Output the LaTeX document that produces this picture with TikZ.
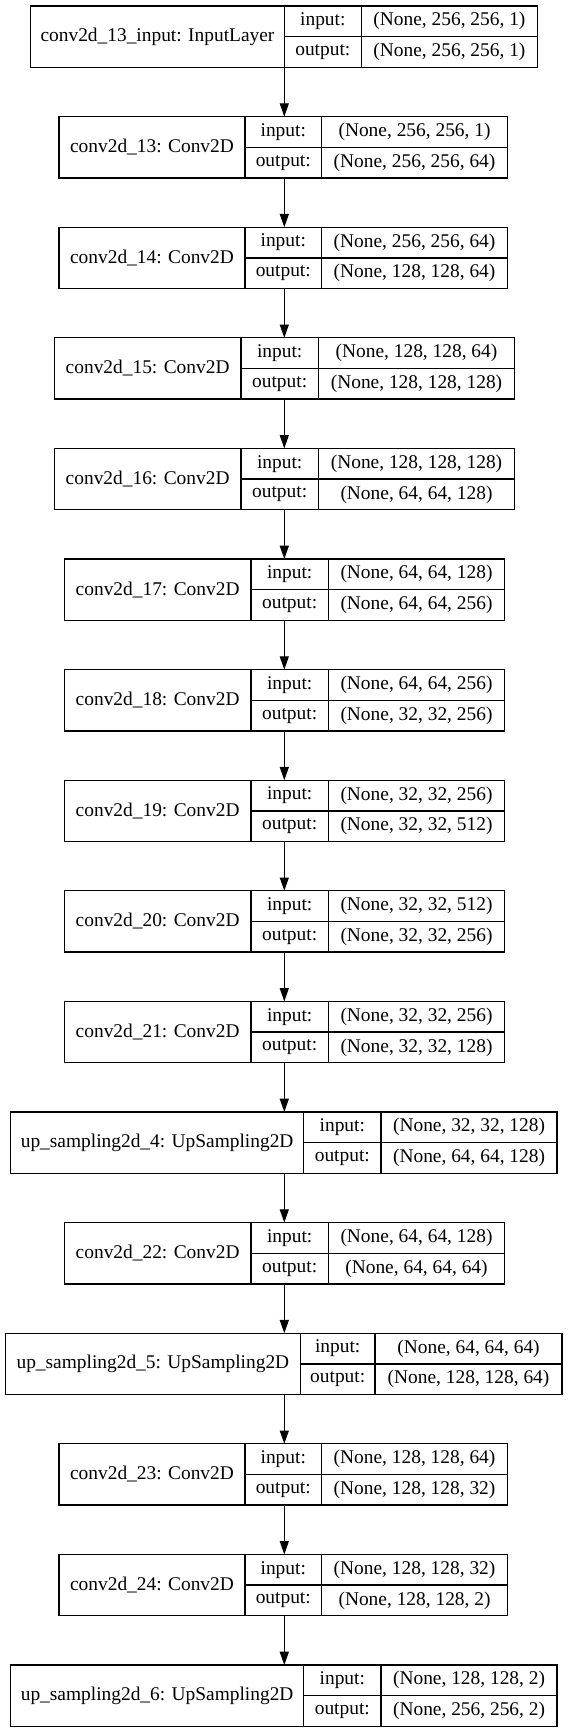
\documentclass[tikz,border=0pt]{standalone}
\usepackage{fontspec}
\setmainfont{Liberation Serif}
\usetikzlibrary{arrows.meta}
\tikzset{
  lbox/.style={draw=black, line width=1.3pt, minimum height=61.3pt, inner sep=0pt, outer sep=0pt},
  txt/.style={inner sep=0pt, font=\fontsize{19.4}{23}\selectfont},
  cell/.style={line width=1.3pt},
  arr/.style={line width=1.3pt, -{Triangle[length=13.3pt, width=9pt]}}
}
\newcommand\layer[9]{%
  \pgfmathsetmacro\lw{#6-#3}%
  \node[lbox, minimum width=\lw pt] (#1) at ({(#3+#6)/2}, #2+30.65) {};
  \node[txt] (#1n) at ({(#3+#4)/2}, #2+30.65) {#7};
  \node[txt] (#1i) at ({(#4+#5)/2}, #2+15.3) {input:};
  \node[txt] (#1o) at ({(#4+#5)/2}, #2+46) {output:};
  \node[txt] (#1a) at ({(#5+#6)/2}, #2+15.3) {#8};
  \node[txt] (#1b) at ({(#5+#6)/2}, #2+46) {#9};
  \draw[cell] (#4, #2) -- (#4, #2+61.3);
  \draw[cell] (#5, #2) -- (#5, #2+61.3);
  \draw[cell] (#4, #2+30.65) -- (#6, #2+30.65);
}
\begin{document}
\begin{tikzpicture}[x=1pt, y=-1pt]
\useasboundingbox (0,0) rectangle (569,1733);
\coordinate (ax) at (284.3,0);
\layer{L0}{6}{30.7}{284.3}{361.3}{537.6}{conv2d\_13\_input: InputLayer}{(None, 256, 256, 1)}{(None, 256, 256, 1)}
\layer{L1}{116.6}{59}{245}{321.5}{507.6}{conv2d\_13: Conv2D}{(None, 256, 256, 1)}{(None, 256, 256, 64)}
\layer{L2}{227.2}{59}{245}{321.5}{507.6}{conv2d\_14: Conv2D}{(None, 256, 256, 64)}{(None, 128, 128, 64)}
\layer{L3}{337.8}{54.3}{241}{318.3}{514.7}{conv2d\_15: Conv2D}{(None, 128, 128, 64)}{(None, 128, 128, 128)}
\layer{L4}{448.4}{54.3}{241}{318.3}{514.7}{conv2d\_16: Conv2D}{(None, 128, 128, 128)}{(None, 64, 64, 128)}
\layer{L5}{559}{64.3}{251}{328.3}{504.7}{conv2d\_17: Conv2D}{(None, 64, 64, 128)}{(None, 64, 64, 256)}
\layer{L6}{669.6}{64.3}{251}{328.3}{504.7}{conv2d\_18: Conv2D}{(None, 64, 64, 256)}{(None, 32, 32, 256)}
\layer{L7}{780.2}{64.3}{251}{328.3}{504.7}{conv2d\_19: Conv2D}{(None, 32, 32, 256)}{(None, 32, 32, 512)}
\layer{L8}{890.8}{64.3}{251}{328.3}{504.7}{conv2d\_20: Conv2D}{(None, 32, 32, 512)}{(None, 32, 32, 256)}
\layer{L9}{1001.4}{64.3}{251}{328.3}{504.7}{conv2d\_21: Conv2D}{(None, 32, 32, 256)}{(None, 32, 32, 128)}
\layer{L10}{1112}{10.8}{303.5}{381.1}{557}{up\_sampling2d\_4: UpSampling2D}{(None, 32, 32, 128)}{(None, 64, 64, 128)}
\layer{L11}{1222.6}{64.3}{251}{328.3}{504.7}{conv2d\_22: Conv2D}{(None, 64, 64, 128)}{(None, 64, 64, 64)}
\layer{L12}{1333.2}{5.5}{300.3}{375.1}{562}{up\_sampling2d\_5: UpSampling2D}{(None, 64, 64, 64)}{(None, 128, 128, 64)}
\layer{L13}{1443.8}{59}{245}{321.5}{507.6}{conv2d\_23: Conv2D}{(None, 128, 128, 64)}{(None, 128, 128, 32)}
\layer{L14}{1554.4}{59}{245}{321.5}{507.6}{conv2d\_24: Conv2D}{(None, 128, 128, 32)}{(None, 128, 128, 2)}
\layer{L15}{1665}{10.8}{303.5}{381.1}{557}{up\_sampling2d\_6: UpSampling2D}{(None, 128, 128, 2)}{(None, 256, 256, 2)}
\foreach \a/\b in {L0/L1,L1/L2,L2/L3,L3/L4,L4/L5,L5/L6,L6/L7,L7/L8,L8/L9,L9/L10,L10/L11,L11/L12,L12/L13,L13/L14,L14/L15}
  \draw[arr] (\a.south -| ax) -- (\b.north -| ax);
\end{tikzpicture}
\end{document}
